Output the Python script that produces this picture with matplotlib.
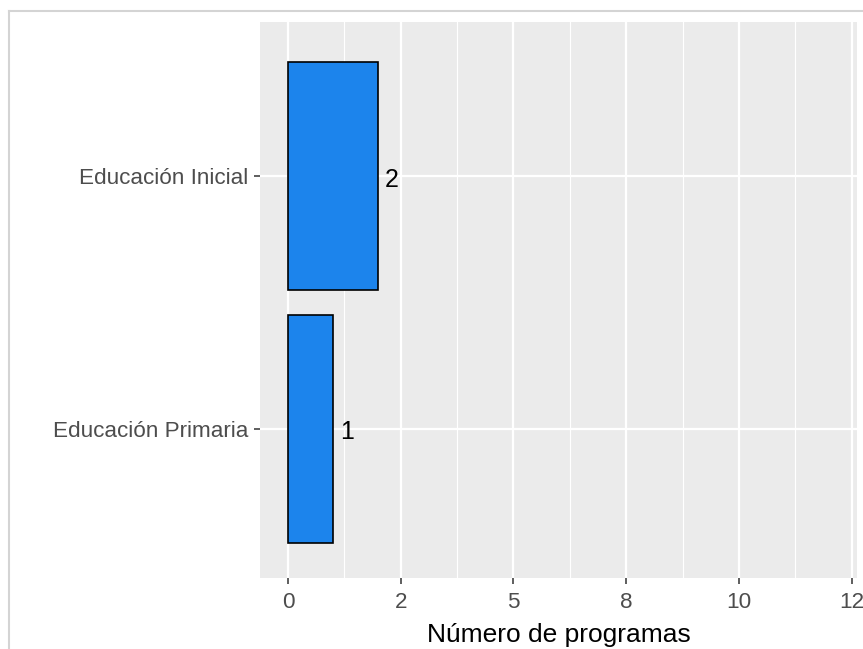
import matplotlib
matplotlib.use("Agg")
import matplotlib.pyplot as plt
from matplotlib.lines import Line2D
import numpy as np

plt.rcParams["font.family"] = ["Liberation Sans", "DejaVu Sans"]

# data
categories = ["Educación Primaria", "Educación Inicial"]
counts = [1, 2]
tick_values = [0, 2.5, 5, 7.5, 10, 12.5]
tick_labels = ["0", "2", "5", "8", "10", "12"]
minor_values = [1.25, 3.75, 6.25, 8.75, 11.25]

W, H = 863, 649
fig = plt.figure(figsize=(W / 100, H / 100), dpi=100)
ax = fig.add_axes([260 / W, 1 - 578 / H, (857 - 260) / W, (578 - 22) / H])

ax.set_facecolor("#EBEBEB")
for s in ax.spines.values():
    s.set_visible(False)

ypos = np.arange(len(categories))
ax.barh(ypos, counts, height=0.9, color="#1c84ec", edgecolor="black",
        linewidth=1.2, zorder=3)
for y, v in zip(ypos, counts):
    ax.annotate(str(v), (v, y), xytext=(5, -2.5), textcoords="offset points",
                ha="left", va="center", fontsize=18, color="black", zorder=4)

ax.set_xlim(-0.621, 12.62)
ax.set_ylim(-0.589, 1.609)
ax.set_xticks(tick_values)
ax.set_xticklabels(tick_labels)
ax.set_xticks(minor_values, minor=True)
ax.set_yticks(ypos)
ax.set_yticklabels(categories)

ax.grid(which="major", color="white", linewidth=1.6, zorder=0)
ax.grid(which="minor", axis="x", color="white", linewidth=0.8, zorder=0)
ax.set_axisbelow(True)
ax.tick_params(which="major", length=4, width=1.1, color="#333333",
               labelsize=16.2, labelcolor="#4d4d4d")
ax.tick_params(axis="x", pad=6)
ax.tick_params(axis="y", pad=4.5)
ax.tick_params(which="minor", length=0)

ax.set_xlabel("Número de programas", fontsize=19, color="black", labelpad=7)

# outer frame of the screenshot
fig.add_artist(Line2D([9 / W, 9 / W], [0, 1 - 11 / H], transform=fig.transFigure,
                      color="#d4d4d4", linewidth=1.5))
fig.add_artist(Line2D([9 / W, 1], [1 - 11 / H, 1 - 11 / H], transform=fig.transFigure,
                      color="#d4d4d4", linewidth=1.5))

fig.savefig("out.png", dpi=100)
